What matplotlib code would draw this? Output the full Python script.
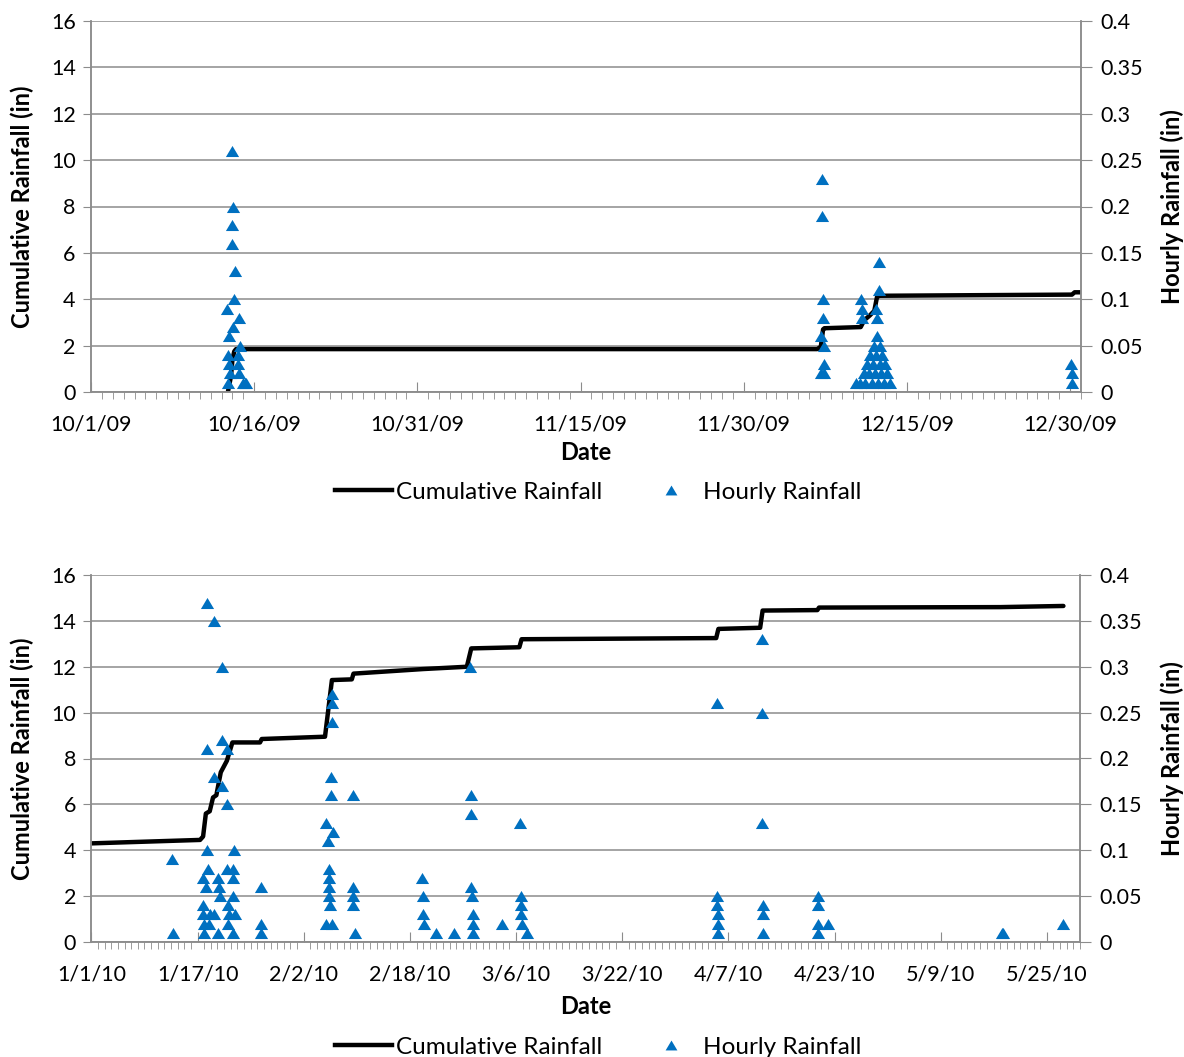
import matplotlib
matplotlib.use("Agg")
import matplotlib.pyplot as plt
import matplotlib.dates as mdates
from matplotlib.lines import Line2D
from matplotlib.ticker import FuncFormatter, MultipleLocator
import pandas as pd

plt.rcParams["font.family"] = ["Lato", "DejaVu Sans"]

# ---- Oct-Dec 2009 ----
top_hourly_time = [
    "2009-10-13 12:00", "2009-10-13 14:00", "2009-10-13 15:00", "2009-10-13 16:00",
    "2009-10-13 17:00", "2009-10-13 18:00", "2009-10-13 22:00", "2009-10-13 23:00",
    "2009-10-14 00:00", "2009-10-14 01:00", "2009-10-14 02:00", "2009-10-14 03:00",
    "2009-10-14 05:00", "2009-10-14 12:00", "2009-10-14 13:00", "2009-10-14 14:00",
    "2009-10-14 15:00", "2009-10-14 16:00", "2009-10-14 23:00", "2009-10-15 03:00",
    "2009-10-15 06:00",
    "2009-12-07 02:00", "2009-12-07 03:00", "2009-12-07 04:00", "2009-12-07 05:00",
    "2009-12-07 06:00", "2009-12-07 07:00", "2009-12-07 08:00", "2009-12-07 09:00",
    "2009-12-07 10:00",
    "2009-12-10 08:00", "2009-12-10 17:00", "2009-12-10 19:00", "2009-12-10 20:00",
    "2009-12-10 21:00", "2009-12-11 02:00", "2009-12-11 04:00", "2009-12-11 08:00",
    "2009-12-11 13:00", "2009-12-11 15:00", "2009-12-11 19:00", "2009-12-11 22:00",
    "2009-12-12 00:00", "2009-12-12 02:00", "2009-12-12 03:00", "2009-12-12 04:00",
    "2009-12-12 05:00", "2009-12-12 06:00", "2009-12-12 09:00", "2009-12-12 10:00",
    "2009-12-12 11:00", "2009-12-12 12:00", "2009-12-12 13:00", "2009-12-12 15:00",
    "2009-12-12 17:00", "2009-12-12 22:00", "2009-12-13 00:00", "2009-12-13 05:00",
    "2009-12-13 11:00",
    "2009-12-30 03:00", "2009-12-30 04:00", "2009-12-30 05:00",
]
top_hourly_in = [
    0.09, 0.01, 0.04, 0.06,
    0.03, 0.02, 0.16, 0.18,
    0.26, 0.07, 0.20, 0.10,
    0.13, 0.04, 0.03, 0.08,
    0.02, 0.05, 0.01, 0.01,
    0.01,
    0.02, 0.06, 0.23, 0.19,
    0.10, 0.08, 0.05, 0.03,
    0.02,
    0.01, 0.01, 0.10, 0.09,
    0.08, 0.02, 0.01, 0.03,
    0.02, 0.04, 0.01, 0.03,
    0.05, 0.02, 0.09, 0.04,
    0.08, 0.06, 0.01, 0.14,
    0.11, 0.03, 0.05, 0.02,
    0.04, 0.01, 0.03, 0.02,
    0.01,
    0.03, 0.02, 0.01,
]
top_cum_time = [
    "2009-10-13 14:00", "2009-10-13 17:00", "2009-10-13 21:00", "2009-10-14 00:00",
    "2009-10-14 04:00", "2009-10-14 08:00", "2009-12-06 18:00", "2009-12-07 02:00",
    "2009-12-07 07:00", "2009-12-07 10:00", "2009-12-10 18:00", "2009-12-11 02:00",
    "2009-12-11 14:00", "2009-12-12 00:00", "2009-12-12 06:00", "2009-12-12 12:00",
    "2009-12-30 04:00", "2009-12-30 10:00", "2009-12-31 00:00",
]
top_cum_in = [
    0.00, 0.30, 0.70, 1.40,
    1.75, 1.85, 1.85, 1.95,
    2.70, 2.75, 2.80, 3.10,
    3.30, 3.50, 4.10, 4.15,
    4.20, 4.30, 4.30,
]

# ---- Jan-May 2010 ----
bot_hourly_time = [
    "2010-01-13 04:00", "2010-01-13 06:00", "2010-01-17 19:00", "2010-01-17 20:00",
    "2010-01-17 21:00", "2010-01-17 22:00", "2010-01-17 23:00", "2010-01-18 05:00",
    "2010-01-18 09:00", "2010-01-18 10:00", "2010-01-18 11:00", "2010-01-18 12:00",
    "2010-01-18 16:00", "2010-01-18 20:00", "2010-01-19 11:00", "2010-01-19 12:00",
    "2010-01-19 13:00", "2010-01-20 01:00", "2010-01-20 02:00", "2010-01-20 06:00",
    "2010-01-20 09:00", "2010-01-20 16:00", "2010-01-20 17:00", "2010-01-20 18:00",
    "2010-01-21 10:00", "2010-01-21 11:00", "2010-01-21 12:00", "2010-01-21 13:00",
    "2010-01-21 14:00", "2010-01-21 18:00", "2010-01-22 07:00", "2010-01-22 08:00",
    "2010-01-22 09:00", "2010-01-22 10:00", "2010-01-22 12:00", "2010-01-22 16:00",
    "2010-01-26 13:00", "2010-01-26 14:00", "2010-01-26 15:00",
    "2010-02-05 08:00", "2010-02-05 09:00", "2010-02-05 15:00", "2010-02-05 18:00",
    "2010-02-05 19:00", "2010-02-05 20:00", "2010-02-05 21:00", "2010-02-05 22:00",
    "2010-02-06 03:00", "2010-02-06 04:00", "2010-02-06 05:00", "2010-02-06 06:00",
    "2010-02-06 07:00", "2010-02-06 08:00", "2010-02-06 10:00",
    "2010-02-09 09:00", "2010-02-09 10:00", "2010-02-09 11:00", "2010-02-09 12:00",
    "2010-02-09 18:00",
    "2010-02-19 19:00", "2010-02-20 00:00", "2010-02-20 01:00", "2010-02-20 02:00",
    "2010-02-21 23:00", "2010-02-24 16:00",
    "2010-02-27 03:00", "2010-02-27 04:00", "2010-02-27 05:00", "2010-02-27 06:00",
    "2010-02-27 07:00", "2010-02-27 11:00", "2010-02-27 12:00", "2010-02-27 13:00",
    "2010-03-03 21:00",
    "2010-03-06 16:00", "2010-03-06 17:00", "2010-03-06 18:00", "2010-03-06 19:00",
    "2010-03-06 20:00", "2010-03-07 16:00",
    "2010-04-05 06:00", "2010-04-05 07:00", "2010-04-05 08:00", "2010-04-05 09:00",
    "2010-04-05 10:00", "2010-04-05 11:00",
    "2010-04-12 01:00", "2010-04-12 02:00", "2010-04-12 03:00", "2010-04-12 04:00",
    "2010-04-12 05:00", "2010-04-12 07:00",
    "2010-04-20 11:00", "2010-04-20 12:00", "2010-04-20 13:00", "2010-04-20 14:00",
    "2010-04-22 01:00",
    "2010-05-18 05:00", "2010-05-18 08:00", "2010-05-27 12:00",
]
bot_hourly_in = [
    0.09, 0.01, 0.07, 0.04,
    0.03, 0.02, 0.01, 0.06,
    0.37, 0.21, 0.10, 0.08,
    0.02, 0.03, 0.35, 0.18,
    0.03, 0.07, 0.01, 0.06,
    0.05, 0.30, 0.22, 0.17,
    0.21, 0.15, 0.08, 0.04,
    0.02, 0.03, 0.08, 0.07,
    0.05, 0.01, 0.10, 0.03,
    0.06, 0.02, 0.01,
    0.13, 0.02, 0.11, 0.08,
    0.07, 0.06, 0.05, 0.04,
    0.16, 0.18, 0.27, 0.26,
    0.24, 0.02, 0.12,
    0.16, 0.06, 0.05, 0.04,
    0.01,
    0.07, 0.05, 0.03, 0.02,
    0.01, 0.01,
    0.30, 0.16, 0.14, 0.06,
    0.05, 0.03, 0.02, 0.01,
    0.02,
    0.13, 0.05, 0.04, 0.03,
    0.02, 0.01,
    0.26, 0.05, 0.04, 0.03,
    0.02, 0.01,
    0.33, 0.25, 0.13, 0.04,
    0.03, 0.01,
    0.05, 0.04, 0.02, 0.01,
    0.02,
    0.01, 0.01, 0.02,
]
bot_cum_time = [
    "2010-01-01 00:00", "2010-01-17 09:00", "2010-01-17 20:00", "2010-01-18 06:00",
    "2010-01-18 20:00", "2010-01-19 08:00", "2010-01-19 20:00", "2010-01-20 12:00",
    "2010-01-21 10:00", "2010-01-22 06:00", "2010-01-26 10:00", "2010-01-26 16:00",
    "2010-02-05 05:00", "2010-02-06 06:00", "2010-02-09 06:00", "2010-02-09 12:00",
    "2010-02-20 00:00", "2010-02-26 14:00", "2010-02-27 06:00", "2010-03-06 12:00",
    "2010-03-06 20:00", "2010-04-05 04:00", "2010-04-05 12:00", "2010-04-11 19:00",
    "2010-04-12 04:00", "2010-04-20 10:00", "2010-04-20 16:00", "2010-05-18 00:00",
    "2010-05-27 12:00",
]
bot_cum_in = [
    4.30, 4.45, 4.60, 5.60,
    5.70, 6.30, 6.40, 7.40,
    7.90, 8.70, 8.70, 8.85,
    8.95, 11.42, 11.45, 11.70,
    11.90, 12.00, 12.80, 12.85,
    13.20, 13.25, 13.65, 13.70,
    14.45, 14.47, 14.58, 14.60,
    14.65,
]

BLUE = "#0070C0"
GREY = "#8C8C8C"
W, H = 1184, 1057
tri = [(-1, -0.84), (1, -0.84), (0, 0.84)]


def date_fmt(x, pos=None):
    d = mdates.num2date(x)
    return f"{d.month}/{d.day}/{d:%y}"


def rain_panel(rect, cum_t, cum_v, hr_t, hr_v, xmin, xmax, step, label_y):
    ax = fig.add_axes(rect)
    ax2 = ax.twinx()

    ax.plot(pd.to_datetime(cum_t), cum_v, color="black", lw=3.2,
            solid_capstyle="round", solid_joinstyle="round")
    ax2.plot(pd.to_datetime(hr_t), hr_v, linestyle="none", marker=tri,
             markersize=9.5, color=BLUE, markeredgewidth=0)

    ax.set_xlim(pd.Timestamp(xmin), pd.Timestamp(xmax))
    ax.set_ylim(0, 16)
    ax2.set_ylim(0, 0.4)
    ax.yaxis.set_major_locator(MultipleLocator(2))
    ax2.yaxis.set_major_locator(MultipleLocator(0.05))
    ax2.yaxis.set_major_formatter(FuncFormatter(lambda v, p: f"{v:g}"))

    ax.set_xticks(pd.date_range(xmin, xmax, freq=step))
    ax.xaxis.set_minor_locator(mdates.DayLocator())
    ax.xaxis.set_major_formatter(FuncFormatter(date_fmt))

    ax.grid(axis="y", color=GREY, lw=1.1)
    ax.set_axisbelow(True)
    for a in (ax, ax2):
        a.spines["top"].set_visible(False)
        for s in ("left", "right", "bottom"):
            a.spines[s].set_color(GREY)
            a.spines[s].set_linewidth(1.1)

    ax.tick_params(axis="x", which="major", direction="in", length=7, color=GREY,
                   labelsize=15.5, pad=16)
    ax.tick_params(axis="x", which="minor", direction="out", length=5, color=GREY)
    ax.tick_params(axis="y", direction="out", length=6, color=GREY, labelsize=15.5, pad=5)
    ax2.tick_params(axis="y", direction="out", length=8, color=GREY, labelsize=15.5, pad=6)

    ax.set_xlabel("Date", fontsize=17, fontweight="bold")
    ax.set_ylabel("Cumulative Rainfall (in)", fontsize=17, fontweight="bold")
    ax2.set_ylabel("Hourly Rainfall (in)", fontsize=17, fontweight="bold")

    # label positions in pixels relative to the axes box
    x0, y0 = rect[0] * W, (1 - rect[1] - rect[3]) * H
    w, h = rect[2] * W, rect[3] * H
    ax.xaxis.set_label_coords(0.5, (y0 + h - label_y) / h)
    ax.xaxis.label.set_va("center")
    ax.yaxis.set_label_coords((22 - x0) / w, 0.5)
    ax.yaxis.label.set_va("center")
    ax2.yaxis.set_label_coords((1172 - x0) / w, 0.5)
    ax2.yaxis.label.set_va("center")
    return ax, ax2


fig = plt.figure(figsize=(W / 100, H / 100), dpi=100)

rain_panel([91 / W, 1 - 392 / H, 990 / W, 371 / H],
           top_cum_time, top_cum_in, top_hourly_time, top_hourly_in,
           "2009-10-01", "2009-12-31", "15D", 452)
rain_panel([91.4 / W, 1 - 942 / H, 988.6 / W, 367 / H],
           bot_cum_time, bot_cum_in, bot_hourly_time, bot_hourly_in,
           "2010-01-01", "2010-05-30", "16D", 1007)

handles = [
    Line2D([], [], color="black", lw=3.2),
    Line2D([], [], linestyle="none", marker=tri, markersize=8.5, color=BLUE,
           markeredgewidth=0),
]
names = ["Cumulative Rainfall", "Hourly Rainfall"]
for ly in (492, 1047):
    fig.legend(handles, names, loc="center", bbox_to_anchor=(598 / W, 1 - ly / H),
               ncol=2, frameon=False, fontsize=17.5, handlelength=2.35,
               handletextpad=0.16, columnspacing=1.65, borderaxespad=0, borderpad=0)

fig.savefig("out.png", dpi=100)
